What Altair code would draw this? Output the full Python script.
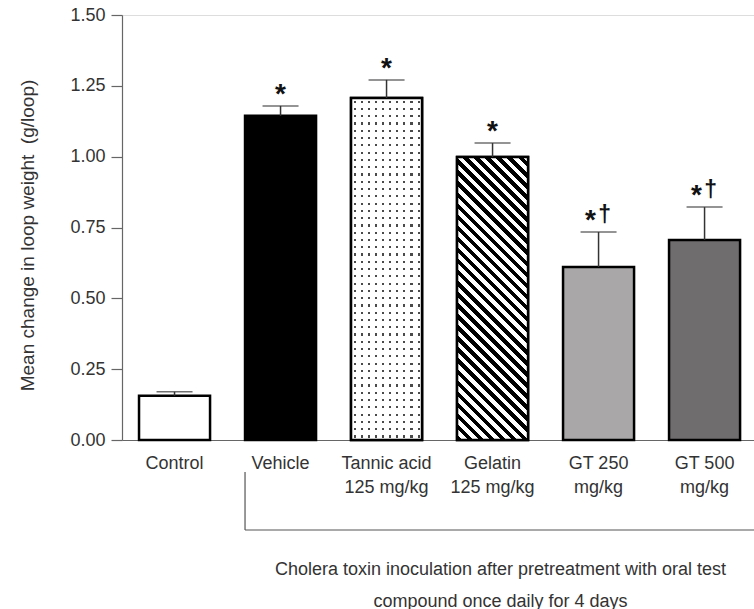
import altair as alt
import pandas as pd

# ---- data ----
categories = ["Control", "Vehicle", "Tannic acid|125 mg/kg", "Gelatin|125 mg/kg",
              "GT 250|mg/kg", "GT 500|mg/kg"]
means = [0.156, 1.144, 1.207, 0.999, 0.611, 0.706]
upper = [0.170, 1.179, 1.271, 1.048, 0.734, 0.822]
markers = ["", "*", "*", "*", "*†", "*†"]
fill_colors = ["white", "black", "white", "white", "#a9a7a7", "#6f6d6d"]
y_ticks = [0, 0.25, 0.5, 0.75, 1.0, 1.25, 1.5]
y_title = "Mean change in loop weight \u00a0(g/loop)"
x_title = ["Cholera toxin inoculation after pretreatment with oral test",
           "compound once daily for 4 days"]

# ---- layout / style ----
PLOT_W, PLOT_H = 632, 425
Y_MAX = 1.5
P_IN, P_OUT, ALIGN = 0.33, 0.146, 0.55
STEP = PLOT_W / (len(categories) - P_IN + 2 * P_OUT)
BAR_W = STEP * (1 - P_IN)
FONT = "Liberation Sans"
TXT = "#333333"
AX = "#666666"

df = pd.DataFrame({"cat": categories, "mean": means, "upper": upper,
                   "marker": markers})

x_scale = alt.Scale(domain=categories, paddingInner=P_IN, paddingOuter=P_OUT, align=ALIGN)
y_scale = alt.Scale(domain=[0, Y_MAX], nice=False, zero=True)

x_axis = alt.Axis(
    title=x_title, labelExpr="split(datum.label, '|')", ticks=False, tickSize=0,
    labelPadding=14, labelFontSize=18, labelLineHeight=24, labelBaseline="top",
    labelAngle=0, labelColor=TXT, domainColor=AX, domainWidth=1.2,
    titleFontSize=18, titleFontWeight="normal", titleX=378, titleY=120,
    titleAlign="center", titleBaseline="top", titleLineHeight=32, titleColor=TXT,
)
y_axis = alt.Axis(
    title=y_title, values=y_ticks, format=".2f", tickSize=11, labelPadding=6,
    labelFontSize=18, labelColor=TXT, domainColor=AX, tickColor=AX, domainWidth=1.2,
    tickWidth=1.2, grid=False, titleFontSize=19, titleFontWeight="normal",
    titleAngle=270, titleX=-95, titleY=220, titleAlign="center",
    titleBaseline="middle", titleColor=TXT,
)

X = alt.X("cat:N", scale=x_scale, axis=x_axis)


def Y(field):
    return alt.Y(f"{field}:Q", scale=y_scale, axis=y_axis)


base = alt.Chart(df)

# plain bars (all)
bars = base.mark_bar(stroke="black", strokeWidth=2.5).encode(
    x=X, y=Y("mean"),
    fill=alt.Fill("cat:N", scale=alt.Scale(domain=categories, range=fill_colors), legend=None),
)

# ---- dotted pattern for tannic acid (two gradient layers) ----
h_t = means[2] / Y_MAX * PLOT_H
rows = round(h_t / 7.3)
cols = 10
dot = "#4a4a4a"
row_stops = [alt.GradientStop(offset=0, color="white")]
for i in range(rows):
    a, b = (i + 0.36) / rows, (i + 0.66) / rows
    row_stops += [alt.GradientStop(offset=a, color="white"), alt.GradientStop(offset=a, color=dot),
                  alt.GradientStop(offset=b, color=dot), alt.GradientStop(offset=b, color="white")]
row_stops.append(alt.GradientStop(offset=1, color="white"))
row_grad = alt.LinearGradient(gradient="linear", stops=row_stops, x1=0, y1=0, x2=0, y2=1)

clear = "rgba(255,255,255,0)"
col_stops = [alt.GradientStop(offset=0, color="white")]
for j in range(cols):
    a, b = (j + 0.36) / cols, (j + 0.66) / cols
    col_stops += [alt.GradientStop(offset=a, color="white"), alt.GradientStop(offset=a, color=clear),
                  alt.GradientStop(offset=b, color=clear), alt.GradientStop(offset=b, color="white")]
col_stops.append(alt.GradientStop(offset=1, color="white"))
col_grad = alt.LinearGradient(gradient="linear", stops=col_stops, x1=0, y1=0, x2=1, y2=0)

tannic = base.transform_filter(alt.datum.cat == categories[2])
tannic_rows = tannic.mark_bar(fill=row_grad, strokeWidth=0).encode(x=X, y=Y("mean"))
tannic_cols = tannic.mark_bar(fill=col_grad, stroke="black", strokeWidth=2.5).encode(x=X, y=Y("mean"))

# ---- diagonal stripes for gelatin ----
h_g = means[3] / Y_MAX * PLOT_H
w = BAR_W
k = (w + h_g) / (w * w + h_g * h_g)
periods = round((w + h_g) / 11)
stripe_stops = []
for p in range(periods):
    a, m, b = p / periods, (p + 0.5) / periods, (p + 1) / periods
    stripe_stops += [alt.GradientStop(offset=a, color="black"), alt.GradientStop(offset=m, color="black"),
                     alt.GradientStop(offset=m, color="white"), alt.GradientStop(offset=b, color="white")]
stripe_grad = alt.LinearGradient(gradient="linear", stops=stripe_stops,
                                 x1=0, y1=1, x2=k * w, y2=1 - k * h_g)
gelatin = base.transform_filter(alt.datum.cat == categories[3]).mark_bar(
    fill=stripe_grad, stroke="black", strokeWidth=2.5).encode(x=X, y=Y("mean"))

# ---- error bars (upper only) ----
err_line = base.mark_rule(color="#333333", strokeWidth=1.5).encode(
    x=X, y=Y("mean"), y2="upper:Q")
err_cap = base.mark_tick(color="#333333", thickness=1.5, size=36).encode(x=X, y=Y("upper"))

# ---- significance markers ----
marks = base.transform_calculate(
    star="substring(datum.marker, 0, 1)", dag="substring(datum.marker, 1)")
star_single = marks.transform_filter("length(datum.marker) == 1").mark_text(
    fontSize=28, fontWeight="bold", dy=-3, baseline="alphabetic", color="#111111", font=FONT
).encode(x=X, y=Y("upper"), text="star:N")
star_pair = marks.transform_filter("length(datum.marker) == 2").mark_text(
    fontSize=28, fontWeight="bold", dy=-3, dx=-8, baseline="alphabetic", color="#111111", font=FONT
).encode(x=X, y=Y("upper"), text="star:N")
dagger = marks.transform_filter("length(datum.marker) == 2").mark_text(
    fontSize=23, fontWeight="bold", dy=-10, dx=6, baseline="alphabetic", color="#111111", font=FONT
).encode(x=X, y=Y("upper"), text="dag:N")

# ---- bracket below the treated groups ----
veh = base.transform_filter(alt.datum.cat == categories[1])
bracket_v = veh.mark_rule(color="#555555", strokeWidth=1.2).encode(
    x=alt.X("cat:N", scale=x_scale, axis=x_axis, bandPosition=0),
    y=alt.value(PLOT_H + 32), y2=alt.value(PLOT_H + 90))
bracket_h = veh.mark_rule(color="#555555", strokeWidth=1.2).encode(
    x=alt.X("cat:N", scale=x_scale, axis=x_axis, bandPosition=0),
    x2=alt.value(PLOT_W), y=alt.value(PLOT_H + 90))

chart = alt.layer(
    bars, tannic_rows, tannic_cols, gelatin, err_line, err_cap,
    star_single, star_pair, dagger, bracket_v, bracket_h,
).properties(
    width=PLOT_W, height=PLOT_H,
    autosize=alt.AutoSizeParams(type="none"),
    padding={"left": 122, "top": 15, "right": 0, "bottom": 169},
    background="white",
).configure_view(stroke=None).configure(font=FONT)

chart.save("out.html", embed_options={"renderer": "svg", "actions": False})
